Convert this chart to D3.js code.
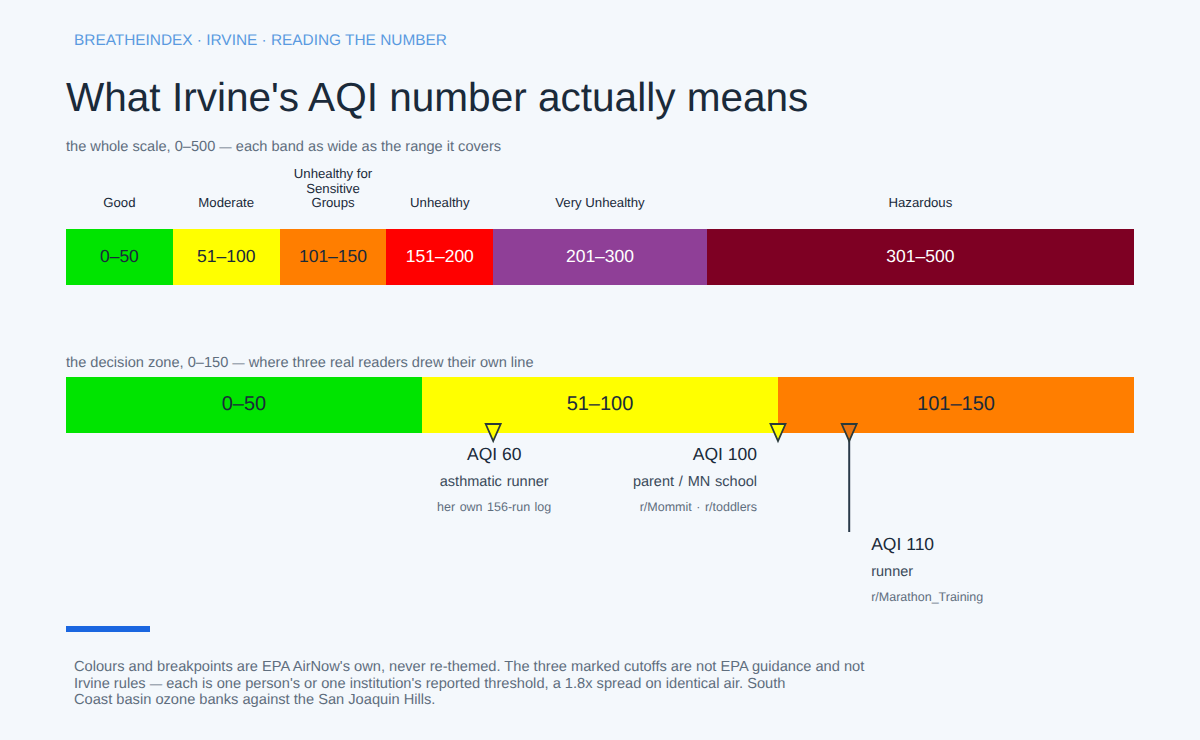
<!DOCTYPE html>
<html><head><meta charset="utf-8">
<script src="https://cdn.jsdelivr.net/npm/d3@7/dist/d3.min.js"></script>
<style>
html,body{margin:0;padding:0;background:#f4f8fc;}
svg{display:block;font-family:"Liberation Sans",Arial,sans-serif;text-rendering:geometricPrecision;}
</style></head><body>
<svg id="c" width="1200" height="740"></svg>
<script>
const bandLabels=["Good","Moderate","Unhealthy for Sensitive Groups","Unhealthy","Very Unhealthy","Hazardous"];
const bandStarts=[0,50,100,150,200,300];
const bandEnds=[50,100,150,200,300,500];
const bandRanges=["0–50","51–100","101–150","151–200","201–300","301–500"];
const bandColors=["#00e400","#ffff00","#ff7e00","#ff0000","#8f3f97","#7e0023"];
const bandText=["#1a2a3a","#1a2a3a","#1a2a3a","#ffffff","#ffffff","#ffffff"];
const zoneCount=3;
const cutoffValues=[60,100,110];
const cutoffHeads=["AQI 60","AQI 100","AQI 110"];
const cutoffWho=["asthmatic runner","parent / MN school","runner"];
const cutoffSource=["her own 156-run log","r/Mommit · r/toddlers","r/Marathon_Training"];
const noteLines=["Colours and breakpoints are EPA AirNow's own, never re-themed. The three marked cutoffs are not EPA guidance and not",
"Irvine rules — each is one person's or one institution's reported threshold, a 1.8x spread on identical air. South",
"Coast basin ozone banks against the San Joaquin Hills."];

const svg=d3.select("#c");
const L=66,R=1134;
const txt=(x,y,s,size,fill,anchor="start",ws=0)=>{
  const t=svg.append("text").attr("x",x).attr("y",y).attr("font-size",size).attr("fill",fill).attr("text-anchor",anchor).style("word-spacing",ws+"px");
  s.split("—").forEach((part,i)=>{
    if(i>0) t.append("tspan").attr("font-size",size*0.85).text("—");
    t.append("tspan").text(part);
  });
  return t;
};

txt(74,44.5,"BREATHEINDEX · IRVINE · READING THE NUMBER",15.4,"#5a9ae0");
txt(66,111,"What Irvine's AQI number actually means",40.55,"#1a2a3a");
txt(66,151,"the whole scale, 0–500 — each band as wide as the range it covers",14.6,"#5f6e7e");
txt(66,367,"the decision zone, 0–150 — where three real readers drew their own line",14.6,"#5f6e7e");

const xAll=d3.scaleLinear().domain([0,500]).range([L,R]);
const xZone=d3.scaleLinear().domain([0,150]).range([L,R]);

bandStarts.forEach((s,i)=>{
  const e=bandEnds[i], cx=(xAll(s)+xAll(e))/2;
  svg.append("rect").attr("x",xAll(s)).attr("y",229).attr("width",xAll(e)-xAll(s)).attr("height",56).attr("fill",bandColors[i]).attr("shape-rendering","crispEdges");
  txt(cx,262,bandRanges[i],17.5,bandText[i],"middle");
  const name=bandLabels[i];
  if(name==="Unhealthy for Sensitive Groups"){
    ["Unhealthy for","Sensitive","Groups"].forEach((w,k)=>txt(cx,178+k*14.5,w,13.2,"#1a2a3a","middle"));
  } else txt(cx,207,name,13.2,"#1a2a3a","middle");
});

bandStarts.slice(0,zoneCount).forEach((s,i)=>{
  const e=bandEnds[i];
  svg.append("rect").attr("x",xZone(s)).attr("y",377).attr("width",xZone(e)-xZone(s)).attr("height",56).attr("fill",bandColors[i]).attr("shape-rendering","crispEdges");
  txt((xZone(s)+xZone(e))/2,410,bandRanges[i],20,"#1a2a3a","middle");
});

const anchors=["middle","end","start"];
const textDx=[1,-21,22];
const textDy=[0,0,90];
const markerFill=["#ffff00","#ffff00","#e87410"];
cutoffValues.forEach((v,i)=>{
  const x=xZone(v);
  if(textDy[i]>0) svg.append("line").attr("x1",x).attr("x2",x).attr("y1",433).attr("y2",532).attr("stroke","#2a3a4a").attr("stroke-width",2);
  svg.append("path").attr("d",d3.line()([[x-7.5,424],[x+7.5,424],[x,441]])+"Z").attr("fill",markerFill[i]).attr("stroke","#2a3a3a").attr("stroke-width",1.8);
  const tx=x+textDx[i], dy=textDy[i];
  txt(tx,460+dy,cutoffHeads[i],17.5,"#1a2a3a",anchors[i]);
  txt(tx,486+dy,cutoffWho[i],14.5,"#3a4a5a",anchors[i],0.8);
  txt(tx,511+dy,cutoffSource[i],12.5,"#5f6e7e",anchors[i],1);
});

svg.append("rect").attr("x",66).attr("y",626).attr("width",84).attr("height",6).attr("fill","#1a66e0");
noteLines.forEach((s,i)=>txt(74,671+i*16.5,s,14.65,"#5f6e7e"));
</script>
</body></html>
